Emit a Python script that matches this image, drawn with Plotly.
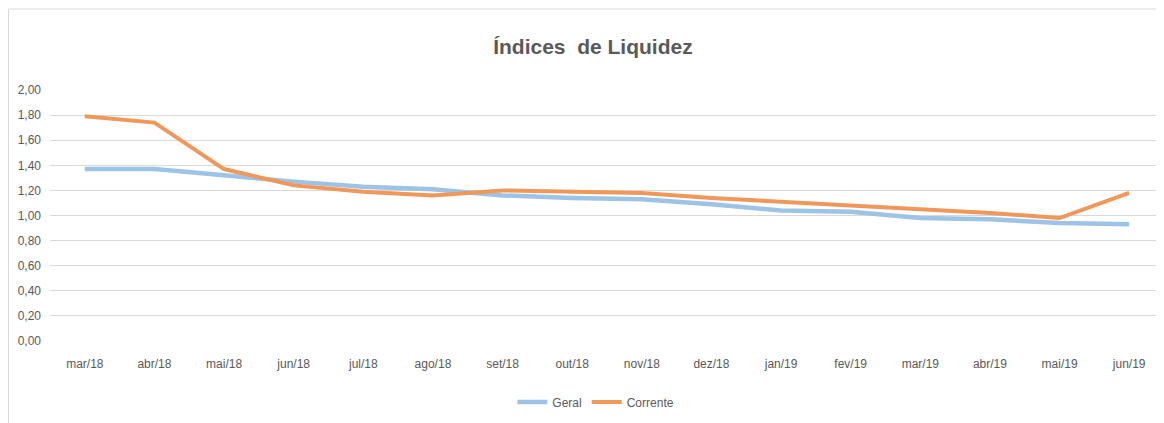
import plotly.graph_objects as go

meses = ["mar/18", "abr/18", "mai/18", "jun/18", "jul/18", "ago/18", "set/18", "out/18",
         "nov/18", "dez/18", "jan/19", "fev/19", "mar/19", "abr/19", "mai/19", "jun/19"]
geral = [1.37, 1.37, 1.32, 1.27, 1.23, 1.21, 1.16, 1.14, 1.13, 1.09, 1.04, 1.03, 0.98, 0.97, 0.94, 0.93]
corrente = [1.79, 1.74, 1.37, 1.24, 1.19, 1.16, 1.20, 1.19, 1.18, 1.14, 1.11, 1.08, 1.05, 1.02, 0.98, 1.18]
y_ticks = [0, 0.2, 0.4, 0.6, 0.8, 1.0, 1.2, 1.4, 1.6, 1.8, 2.0]
y_labels = ["0,00", "0,20", "0,40", "0,60", "0,80", "1,00", "1,20", "1,40", "1,60", "1,80", "2,00"]

FONT = "Liberation Sans, Arial, sans-serif"
GRAY = "#595959"

W, H = 1156, 415
L, T, B = 42, 82, 82
PW = W - L
PH = H - T - B

fig = go.Figure()
fig.add_trace(go.Scatter(x=meses, y=geral, mode="lines", name="Geral",
                         line=dict(color="#9DC3E6", width=4.5)))
fig.add_trace(go.Scatter(x=meses, y=corrente, mode="lines", name="Corrente",
                         line=dict(color="#F0975A", width=4)))

fig.update_layout(
    width=W, height=H,
    margin=dict(l=L, r=0, t=T, b=B),
    paper_bgcolor="white", plot_bgcolor="white",
    font=dict(family=FONT, color=GRAY, size=12),
    title=dict(text="<b>Índices  de Liquidez</b>", x=0.506, xanchor="center",
               y=0.906, yanchor="middle", yref="container",
               font=dict(family=FONT, size=21, color=GRAY)),
    legend=dict(orientation="h", x=0.49, xanchor="center", y=-0.243, yanchor="middle",
                font=dict(size=12, color=GRAY), itemwidth=30, traceorder="normal"),
    showlegend=True,
    xaxis=dict(type="category", range=[-0.5, 15.5], showgrid=False, zeroline=False,
               showline=False, ticks="", ticklabelstandoff=14,
               tickfont=dict(size=12, color=GRAY)),
    yaxis=dict(range=[0, 2.0], tickvals=y_ticks, ticktext=y_labels, showgrid=True,
               gridcolor="#D9D9D9", gridwidth=1, zeroline=False, showline=False,
               ticks="", ticklabelstandoff=8, tickfont=dict(size=12, color=GRAY)),
    shapes=[dict(type="rect", xref="paper", yref="paper",
                 x0=(0.5 - L) / PW, x1=1.05, y0=-0.5, y1=(PH + T - 1) / PH,
                 line=dict(color="#D9D9D9", width=1), fillcolor="rgba(0,0,0,0)",
                 layer="below")],
)

fig.write_html("out.html")
